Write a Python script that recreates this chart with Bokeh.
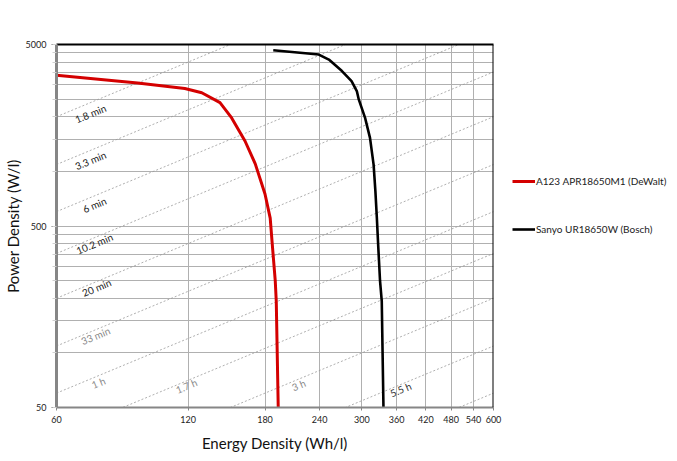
import math
from bokeh.plotting import figure
from bokeh.models import Range1d, FixedTicker, LogAxis, Legend, LegendItem, NumeralTickFormatter, ColumnDataSource, Span
from bokeh.core.properties import value
from bokeh.embed import file_html
from bokeh.resources import INLINE

# ---------------- data ----------------
x_ticks = [60, 120, 180, 240, 300, 360, 420, 480, 540, 600]
y_ticks = [50, 500, 5000]
y_grid = [50, 100, 150, 200, 250, 300, 350, 400, 450, 500,
          1000, 1500, 2000, 2500, 3000, 3500, 4000, 4500, 5000]

a123_energy = [60, 92, 118, 129, 142, 151, 162, 171, 180, 185, 187, 190, 191, 193]
a123_power = [3380, 3070, 2860, 2710, 2390, 1970, 1470, 1100, 750, 553, 398, 249, 193, 50]

sanyo_energy = [188, 239, 252, 270, 284, 292, 295, 305, 313, 319, 322, 324.5, 327, 330, 333, 336]
sanyo_power = [4650, 4400, 4130, 3570, 3140, 2770, 2490, 1970, 1530, 1090, 780, 555, 380, 249, 193, 50]

run_hours = [0.03, 0.055, 0.1, 0.17, 0.3, 0.55, 1, 1.7, 3, 5.5, 10]
run_labels = ["1.8 min", "3.3 min", "6 min", "10.2 min", "20 min", "33 min", "1 h", "1.7 h", "3 h", "5.5 h", ""]

# label placement (energy at label centre, pixel offset below the line) and colours
label_energy = [71.8, 71.8, 73.3, 73.3, 74.1, 73.7, 74.8, 119, 215, 368, 500]
label_offset = [11, 10, 9, 6, 6, 6, 7, 5, 6, 5, 0]
label_color = ["#222222", "#222222", "#222222", "#222222", "#222222", "#8a8a8a",
               "#8a8a8a", "#8a8a8a", "#8a8a8a", "#333333", "#333333"]

FW, FH = 437, 363
E0, E1, P0, P1 = 60, 600, 50, 5000

p = figure(x_axis_type="log", y_axis_type="log",
           x_range=Range1d(E0, E1), y_range=Range1d(P0, P1),
           frame_width=FW, frame_height=FH,
           min_border_left=50, min_border_right=174, min_border_top=44, min_border_bottom=46,
           output_backend="svg", toolbar_location=None,
           background_fill_color="white", border_fill_color="white")
p.outline_line_color = None

# grids
p.xgrid[0].ticker = FixedTicker(ticks=x_ticks)
p.ygrid[0].ticker = FixedTicker(ticks=y_grid)
p.xgrid.grid_line_color = "#b0b0b0"
p.ygrid.grid_line_color = "#b0b0b0"
p.xgrid.grid_line_width = 1
p.ygrid.grid_line_width = 1

# constant run-time lines
ml_x = [[E0, E1] for t in run_hours]
ml_y = [[E0 / t, E1 / t] for t in run_hours]
p.multi_line(ml_x, ml_y, line_color="#9a9a9a", line_width=0.8, line_dash="2 2")

angle = math.atan((FH / math.log10(P1 / P0)) / (FW / math.log10(E1 / E0)))
lab_src = ColumnDataSource(dict(x=label_energy,
                                y=[e / t for e, t in zip(label_energy, run_hours)],
                                text=run_labels, off=label_offset, color=label_color))
p.text(x="x", y="y", text="text", source=lab_src, angle=angle, y_offset="off",
       text_align="center", text_baseline="middle", text_color="color",
       text_font=value("Lato"), text_font_size="10px")

# curves
r1 = p.line(a123_energy, a123_power, line_color="#d40000", line_width=3, line_join="round")
r2 = p.line(sanyo_energy, sanyo_power, line_color="#000000", line_width=2.6, line_join="round")

# axes
for ax in (p.xaxis[0], p.yaxis[0]):
    ax.formatter = NumeralTickFormatter(format="0")
    ax.major_label_text_font = "Lato"
    ax.major_label_text_font_size = "9px"
    ax.major_label_text_color = "#222222"
    ax.axis_label_text_font = "Lato"
    ax.axis_label_text_font_size = "15px"
    ax.axis_label_text_font_style = "normal"
    ax.axis_label_text_color = "#111111"
    ax.axis_line_color = "#868686"
    ax.major_tick_line_color = "#868686"
    ax.major_tick_in = 0

p.xaxis[0].ticker = FixedTicker(ticks=x_ticks)
p.yaxis[0].ticker = FixedTicker(ticks=y_ticks, minor_ticks=y_grid)
p.xaxis[0].axis_label = "Energy Density (Wh/l)"
p.yaxis[0].axis_label = "Power Density (W/l)"
p.xaxis[0].axis_line_width = 2
p.yaxis[0].axis_line_width = 3
p.xaxis[0].major_tick_out = 3
p.yaxis[0].major_tick_out = 5
p.xaxis[0].major_label_standoff = 5
p.yaxis[0].major_label_standoff = 5
p.xaxis[0].axis_label_standoff = 8
p.yaxis[0].axis_label_standoff = 1
p.xaxis[0].minor_tick_line_color = None
p.yaxis[0].minor_tick_line_color = "#d0d0d0"
p.yaxis[0].minor_tick_out = 4
p.yaxis[0].minor_tick_in = 0

# black frame on top (axis) and right (span)
top_ax = LogAxis(ticker=FixedTicker(ticks=[]), axis_line_color="black", axis_line_width=2,
                 major_tick_line_color=None, minor_tick_line_color=None,
                 major_label_text_font_size="0px")
p.add_layout(top_ax, "above")
p.add_layout(Span(location=E1, dimension="height", line_color="black", line_width=2))

legend = Legend(items=[LegendItem(label="A123 APR18650M1 (DeWalt)", renderers=[r1]),
                       LegendItem(label="Sanyo UR18650W (Bosch)", renderers=[r2])],
                location=(19, 168), padding=0, margin=0, spacing=28,
                glyph_width=23, glyph_height=20, label_height=20, label_standoff=1,
                label_text_font="Lato", label_text_font_size="10px", label_text_color="#222222",
                background_fill_alpha=0, border_line_alpha=0)
p.add_layout(legend, "right")

open("out.html", "w").write(file_html(p, INLINE))
